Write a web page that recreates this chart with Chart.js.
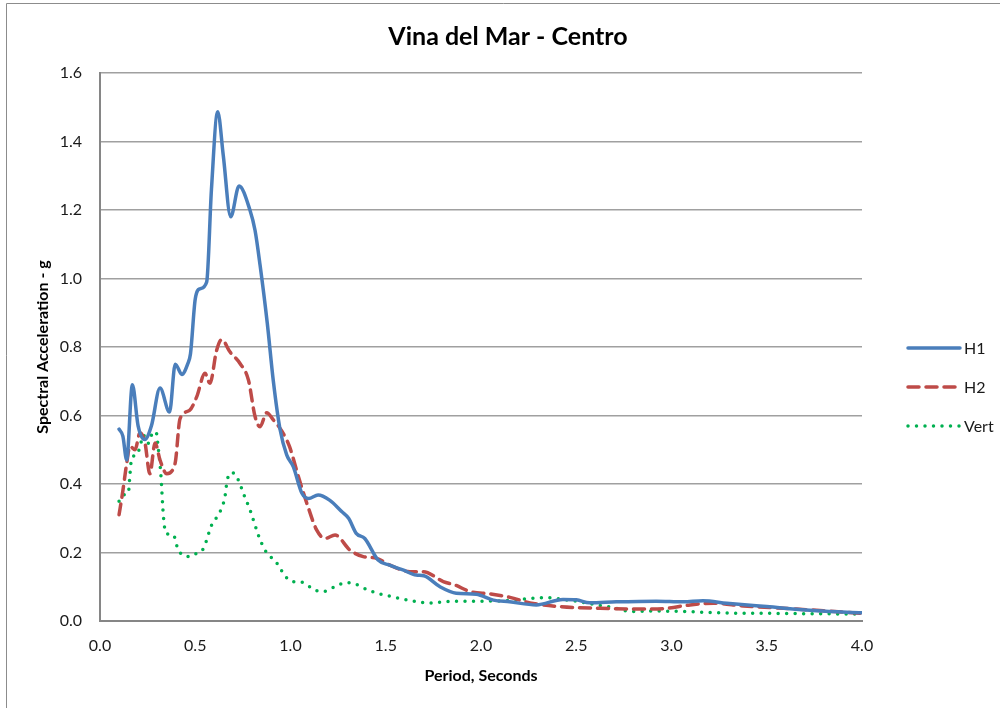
<!DOCTYPE html>
<html lang="en">
  <head>
    <meta charset="UTF-8" />
    <title>Vina del Mar - Centro</title>
    <script src="https://cdn.jsdelivr.net/npm/chart.js@4.4.0/dist/chart.umd.min.js"></script>
    <style>
      body { margin: 0; background: #fff; }
    </style>
  </head>
  <body>
    <canvas id="chart" width="1000" height="708"></canvas>
    <script>
      // spectra: period (s) and spectral acceleration (g)
      const h1T = [0.10, 0.12, 0.14, 0.17, 0.20, 0.235, 0.27, 0.315, 0.365, 0.395, 0.43, 0.46, 0.475, 0.50, 0.525, 0.56,
        0.585, 0.618, 0.647, 0.686, 0.73, 0.787, 0.814, 0.84, 0.878, 0.91, 0.945, 0.98, 1.015, 1.06, 1.095, 1.145,
        1.205, 1.27, 1.305, 1.345, 1.39, 1.46, 1.52, 1.59, 1.66, 1.70, 1.785, 1.87, 1.975, 2.065, 2.15, 2.29, 2.43,
        2.50, 2.57, 2.71, 2.92, 3.06, 3.165, 3.29, 3.50, 3.76, 4.00];
      const h1Sa = [0.56, 0.54, 0.47, 0.69, 0.57, 0.53, 0.57, 0.68, 0.61, 0.75, 0.72, 0.75, 0.78, 0.94, 0.97, 0.99,
        1.26, 1.487, 1.36, 1.18, 1.27, 1.20, 1.14, 1.04, 0.87, 0.70, 0.56, 0.485, 0.45, 0.373, 0.358, 0.368,
        0.353, 0.319, 0.30, 0.256, 0.241, 0.178, 0.163, 0.149, 0.134, 0.132, 0.10, 0.081, 0.078, 0.061, 0.056, 0.047, 0.063,
        0.062, 0.053, 0.056, 0.058, 0.056, 0.059, 0.052, 0.042, 0.030, 0.024];

      const h2T = [0.10, 0.12, 0.14, 0.157, 0.184, 0.21, 0.236, 0.262, 0.289, 0.315, 0.35, 0.394, 0.42, 0.47, 0.508,
        0.551, 0.577, 0.612, 0.639, 0.682, 0.735, 0.779, 0.814, 0.84, 0.875, 0.91, 0.954, 0.995, 1.045, 1.094, 1.137,
        1.181, 1.234, 1.312, 1.382, 1.452, 1.522, 1.627, 1.697, 1.802, 1.864, 1.942, 2.047, 2.152, 2.257, 2.415,
        2.625, 2.852, 2.975, 3.097, 3.22, 3.377, 3.587, 3.797, 4.00];
      const h2Sa = [0.31, 0.38, 0.46, 0.51, 0.50, 0.55, 0.52, 0.43, 0.52, 0.47, 0.43, 0.46, 0.59, 0.615, 0.655,
        0.723, 0.694, 0.79, 0.822, 0.786, 0.752, 0.704, 0.597, 0.567, 0.608, 0.587, 0.555, 0.509, 0.415, 0.33, 0.266,
        0.241, 0.251, 0.207, 0.188, 0.183, 0.163, 0.144, 0.144, 0.115, 0.105, 0.086, 0.079, 0.069, 0.053, 0.042,
        0.037, 0.035, 0.037, 0.047, 0.052, 0.044, 0.037, 0.030, 0.022];

      const vertT = [0.10, 0.122, 0.149, 0.157, 0.166, 0.192, 0.21, 0.227, 0.254, 0.271, 0.294, 0.306, 0.319, 0.333,
        0.346, 0.385, 0.411, 0.472, 0.508, 0.543, 0.586, 0.63, 0.656, 0.668, 0.696, 0.723, 0.756, 0.791, 0.831,
        0.866, 0.927, 0.975, 1.01, 1.06, 1.129, 1.169, 1.251, 1.295, 1.339, 1.417, 1.549, 1.68, 1.724, 1.855,
        2.03, 2.17, 2.257, 2.345, 2.43, 2.52, 2.607, 2.695, 2.782, 2.887, 3.06, 3.237, 3.587, 4.00];
      const vertSa = [0.35, 0.368, 0.375, 0.426, 0.475, 0.485, 0.509, 0.543, 0.519, 0.543, 0.553, 0.504, 0.431, 0.305,
        0.256, 0.251, 0.207, 0.188, 0.198, 0.212, 0.28, 0.319, 0.363, 0.412, 0.433, 0.415, 0.368, 0.319, 0.251,
        0.207, 0.17, 0.129, 0.115, 0.113, 0.09, 0.086, 0.105, 0.112, 0.108, 0.088, 0.069, 0.055, 0.052, 0.058,
        0.058, 0.061, 0.066, 0.068, 0.063, 0.056, 0.047, 0.039, 0.028, 0.029, 0.028, 0.024, 0.022, 0.020];

      const seriesNames = ['H1', 'H2', 'Vert'];
      const chartTitle = 'Vina del Mar - Centro';

      const toPoints = (t, sa) => t.map((v, i) => ({x: v, y: sa[i]}));

      const fontFam = 'Lato, "Open Sans", sans-serif';

      // outer frame of the chart object (left and top edges show)
      const framePlugin = {
        id: 'frame',
        beforeDraw(chart) {
          const c = chart.ctx;
          c.save();
          c.strokeStyle = '#8c8c8c';
          c.lineWidth = 1;
          c.beginPath();
          c.moveTo(6.5, chart.height);
          c.lineTo(6.5, 3.5);
          c.lineTo(chart.width, 3.5);
          c.stroke();
          c.restore();
        }
      };

      // title centred on the whole chart object, not on the plot
      const titlePlugin = {
        id: 'centreTitle',
        afterDraw(chart) {
          const c = chart.ctx;
          c.save();
          c.fillStyle = '#000';
          c.font = 'bold 25px ' + fontFam;
          c.textAlign = 'center';
          c.textBaseline = 'middle';
          c.fillText(chartTitle, chart.width / 2 + 8, 37);
          c.restore();
        }
      };

      // legend drawn beside the plot, styles taken from the datasets
      const sideLegend = {
        id: 'sideLegend',
        afterDraw(chart) {
          const c = chart.ctx;
          const area = chart.chartArea;
          const x0 = area.right + 46;
          const mid = (area.top + area.bottom) / 2 + 40;
          const step = 39;
          chart.data.datasets.forEach((ds, i) => {
            const y = mid + (i - 1) * step;
            c.save();
            c.strokeStyle = ds.borderColor;
            c.lineWidth = ds.borderWidth;
            c.lineCap = ds.borderCapStyle || 'butt';
            c.setLineDash(ds.borderDash || []);
            c.beginPath();
            c.moveTo(x0, y);
            c.lineTo(x0 + 52, y);
            c.stroke();
            c.setLineDash([]);
            c.fillStyle = '#1a1a1a';
            c.font = '16px ' + fontFam;
            c.textBaseline = 'middle';
            c.fillText(ds.label, x0 + 56, y + 1);
            c.restore();
          });
        }
      };

      const ctx = document.getElementById('chart').getContext('2d');
      new Chart(ctx, {
        type: 'line',
        data: {
          datasets: [
            {
              label: seriesNames[0],
              data: toPoints(h1T, h1Sa),
              borderColor: '#4a7ebb',
              borderWidth: 3.5,
              borderCapStyle: 'round',
              borderJoinStyle: 'round'
            },
            {
              label: seriesNames[1],
              data: toPoints(h2T, h2Sa),
              borderColor: '#be4b48',
              borderWidth: 3.5,
              borderDash: [11, 7],
              borderCapStyle: 'round'
            },
            {
              label: seriesNames[2],
              data: toPoints(vertT, vertSa),
              borderColor: '#00b050',
              borderWidth: 3.5,
              borderDash: [0, 8.5],
              borderCapStyle: 'round'
            }
          ]
        },
        options: {
          responsive: false,
          animation: false,
          parsing: false,
          layout: { padding: { top: 73, left: 0, right: 138, bottom: 0 } },
          elements: {
            point: { radius: 0 },
            line: { cubicInterpolationMode: 'monotone', fill: false }
          },
          plugins: {
            legend: { display: false },
            tooltip: { enabled: false },
            title: { display: false }
          },
          scales: {
            x: {
              type: 'linear',
              min: 0,
              max: 4,
              afterFit(scale) { scale.height = 87; },
              border: { display: true, color: '#868686', width: 2 },
              grid: { display: false, drawTicks: false },
              ticks: {
                stepSize: 0.5,
                padding: 15,
                color: '#1a1a1a',
                font: { family: fontFam, size: 16 },
                callback: v => v.toFixed(1)
              },
              title: {
                display: true,
                text: 'Period, Seconds',
                color: '#000',
                font: { family: fontFam, size: 16, weight: 'bold' },
                padding: { top: 0, bottom: 23 }
              }
            },
            y: {
              min: 0,
              max: 1.6,
              afterFit(scale) { scale.width = 100; },
              border: { display: true, color: '#868686', width: 2 },
              grid: { color: '#a0a0a0', lineWidth: 1.5, drawTicks: false },
              ticks: {
                stepSize: 0.2,
                padding: 18,
                color: '#1a1a1a',
                font: { family: fontFam, size: 16 },
                callback: v => v.toFixed(1)
              },
              title: {
                display: true,
                text: 'Spectral Acceleration - g',
                color: '#000',
                font: { family: fontFam, size: 16, weight: 'bold' },
                padding: { top: 33, bottom: 0 }
              }
            }
          }
        },
        plugins: [framePlugin, titlePlugin, sideLegend]
      });
    </script>
  </body>
</html>
